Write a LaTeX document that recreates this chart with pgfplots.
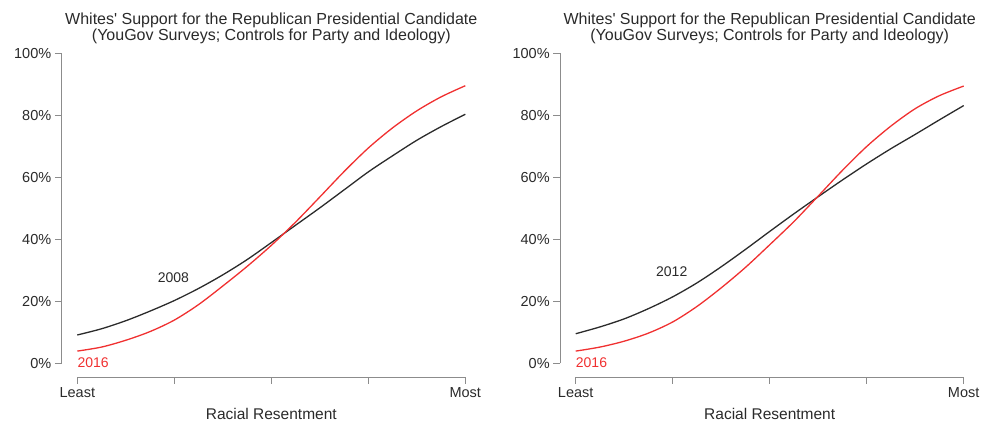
\documentclass[border=0pt]{standalone}
\usepackage{pgfplots}
\pgfplotsset{compat=1.18}
\usepackage{fontspec}
\setmainfont{Liberation Sans}

\definecolor{lineblack}{HTML}{2B2B2B}
\definecolor{linered}{HTML}{F03030}
\definecolor{axgray}{HTML}{8C8C8C}
\definecolor{txt}{HTML}{2A2A2A}

% R-style panel: detached gray axes, outside ticks
\pgfplotsset{
  rplot/.style={
    scale only axis,
    width=388pt, height=310pt,
    xmin=0, xmax=4, ymin=0, ymax=100,
    axis lines*=left,
    axis x line shift=13.5pt,
    axis y line shift=15.5pt,
    axis line style={axgray, line width=0.9pt},
    tick style={axgray, line width=0.9pt},
    tick align=outside,
    major tick length=7pt,
    xtick={0,1,2,3,4},
    xticklabels={Least,,,,Most},
    ytick={0,20,40,60,80,100},
    yticklabels={0\%,20\%,40\%,60\%,80\%,100\%},
    ticklabel style={font=\fontsize{14.5}{16}\selectfont, text=txt},
    xlabel={Racial Resentment},
    xlabel style={font=\fontsize{15.5}{17}\selectfont, text=txt,
      at={(axis description cs:0.5,0)}, anchor=base, yshift=-56.5pt},
    title style={font=\fontsize{16}{14.5}\selectfont, text=txt, align=center,
      at={(axis description cs:0.5,1)}, anchor=south, inner sep=0pt, yshift=3.5pt},
    clip=false,
  },
}

\newcommand{\ttl}{Whites\textquotesingle{} Support for the Republican Presidential Candidate\\(YouGov Surveys; Controls for Party and Ideology)}

\begin{document}
\begin{tikzpicture}
\useasboundingbox (0,0) rectangle (982pt,422pt);

\begin{axis}[rplot, at={(77.3pt,58.5pt)}, anchor=south west, title={\ttl}]
% 2008
\addplot[lineblack, line width=1.3pt, smooth] coordinates {
  (0,9.2) (0.25,11.2) (0.5,13.8) (0.75,16.9) (1,20.3) (1.25,24.2) (1.5,28.6)
  (1.75,33.5) (2,39.0) (2.25,44.6) (2.5,50.2) (2.75,56.0) (3,61.8) (3.25,67.0)
  (3.5,72.0) (3.75,76.4) (4,80.4)};
% 2016
\addplot[linered, line width=1.3pt, smooth] coordinates {
  (0,4.0) (0.25,5.3) (0.5,7.5) (0.75,10.3) (1,14.0) (1.25,19.0) (1.5,25.0)
  (1.75,31.3) (2,38.1) (2.25,45.6) (2.5,53.7) (2.75,61.9) (3,69.5) (3.25,76.0)
  (3.5,81.5) (3.75,86.0) (4,89.6)};
\node[text=txt, font=\fontsize{14}{16}\selectfont] at (axis cs:0.99,27.6) {2008};
\node[text=linered, font=\fontsize{14}{16}\selectfont, anchor=west, inner sep=0pt] at (axis cs:0,0.2) {2016};
\end{axis}

\begin{axis}[rplot, at={(575.7pt,58.5pt)}, anchor=south west, title={\ttl}]
% 2012
\addplot[lineblack, line width=1.3pt, smooth] coordinates {
  (0,9.6) (0.25,11.8) (0.5,14.4) (0.75,17.7) (1,21.5) (1.25,26.0) (1.5,31.2)
  (1.75,36.8) (2,42.6) (2.25,48.3) (2.5,53.8) (2.75,59.2) (3,64.4) (3.25,69.3)
  (3.5,73.9) (3.75,78.6) (4,83.2)};
% 2016
\addplot[linered, line width=1.3pt, smooth] coordinates {
  (0,4.0) (0.25,5.3) (0.5,7.2) (0.75,9.8) (1,13.4) (1.25,18.4) (1.5,24.4)
  (1.75,31.0) (2,38.3) (2.25,45.8) (2.5,54.0) (2.75,62.3) (3,70.0) (3.25,76.6)
  (3.5,82.2) (3.75,86.4) (4,89.5)};
\node[text=txt, font=\fontsize{14}{16}\selectfont] at (axis cs:0.99,29.5) {2012};
\node[text=linered, font=\fontsize{14}{16}\selectfont, anchor=west, inner sep=0pt] at (axis cs:0,0.2) {2016};
\end{axis}
\end{tikzpicture}
\end{document}
